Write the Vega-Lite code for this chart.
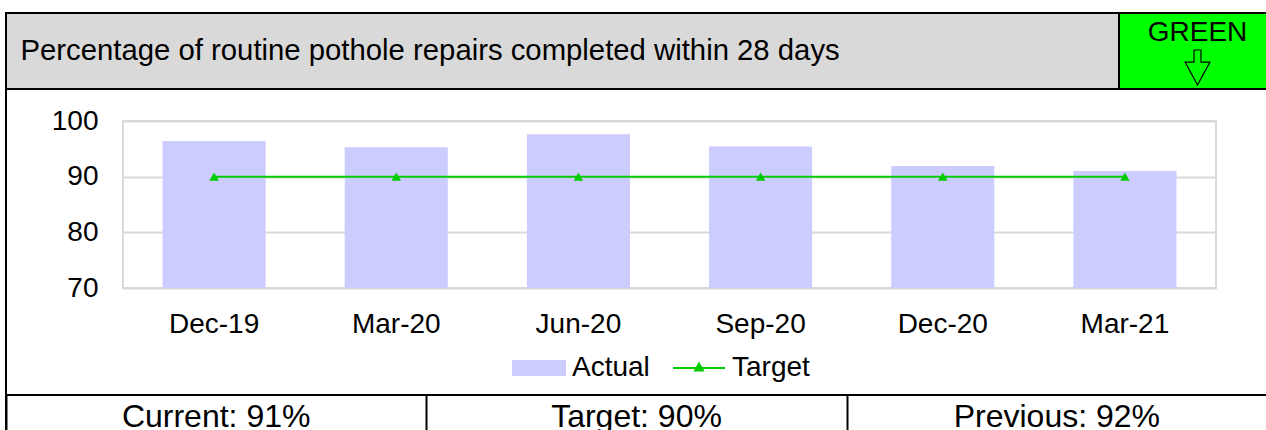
{
  "$schema": "https://vega.github.io/schema/vega-lite/v6.json",
  "padding": {"left": 5, "top": 12, "right": -2, "bottom": -2},
  "background": "white",
  "spacing": -2,
  "bounds": "full",
  "config": {"view": {"stroke": null}, "font": "Liberation Sans"},
  "resolve": {"scale": {"color": "independent"}, "legend": {"color": "independent"}},
  "vconcat": [
    {
      "hconcat": [
        {
          "width": 1113,
          "height": 76,
          "view": {"fill": "#d9d9d9", "stroke": "black", "strokeWidth": 2},
          "data": {"values": [{"title": "Percentage of routine pothole repairs completed within 28 days"}]},
          "mark": {"type": "text", "align": "left", "baseline": "middle", "fontSize": 29.3, "color": "black", "dx": 14.5},
          "encoding": {
            "text": {"field": "title", "type": "nominal"},
            "x": {"datum": 0, "type": "quantitative", "scale": {"domain": [0, 1]}, "axis": null}
          }
        },
        {
          "width": 148,
          "height": 76,
          "view": {"fill": "#00ff00", "stroke": "black", "strokeWidth": 2},
          "data": {"values": [{"status": "GREEN"}]},
          "layer": [
            {
              "mark": {"type": "text", "align": "center", "baseline": "middle", "fontSize": 28, "color": "black", "dx": 4.5, "dy": -18},
              "encoding": {"text": {"field": "status", "type": "nominal"}}
            },
            {
              "mark": {"type": "point", "shape": "M-0.2,-1H0.2V-0.31H0.71L0,1L-0.71,-0.31H-0.2Z", "size": 1225, "filled": false, "stroke": "black", "strokeWidth": 1.2, "opacity": 1, "xOffset": 4.5, "yOffset": 16.5},
              "encoding": {}
            }
          ]
        }
      ],
      "spacing": 0,
      "bounds": "flush"
    },
    {
      "hconcat": [
        {
          "width": 0.001,
          "height": 304,
          "view": {"stroke": "black", "strokeWidth": 2},
          "data": {"values": []},
          "mark": "rect",
          "encoding": {}
        },
        {
          "vconcat": [
            {
              "width": 1093,
              "height": 1,
              "data": {"values": []},
              "mark": "rect",
              "encoding": {}
            },
            {
              "width": 1093,
              "height": 167,
              "view": {"stroke": "#d9d9d9", "strokeWidth": 2},
              "data": {"values": [
                {"period": "Dec-19", "actual": 96.4, "target": 90},
                {"period": "Mar-20", "actual": 95.3, "target": 90},
                {"period": "Jun-20", "actual": 97.6, "target": 90},
                {"period": "Sep-20", "actual": 95.4, "target": 90},
                {"period": "Dec-20", "actual": 91.9, "target": 90},
                {"period": "Mar-21", "actual": 91.0, "target": 90}
              ]},
              "encoding": {
                "x": {
                  "field": "period",
                  "type": "ordinal",
                  "sort": null,
                  "scale": {"paddingInner": 0.434, "paddingOuter": 0.217},
                  "axis": {"domain": false, "ticks": false, "labelPadding": 22, "labelFontSize": 28, "labelColor": "black", "labelAngle": 0, "title": null, "grid": false}
                }
              },
              "layer": [
                {
                  "mark": {"type": "bar"},
                  "encoding": {
                    "y": {
                      "field": "actual",
                      "type": "quantitative",
                      "scale": {"domain": [70, 100], "zero": false, "clamp": true},
                      "axis": {"values": [70, 80, 90, 100], "grid": true, "gridColor": "#d9d9d9", "gridWidth": 2, "domain": false, "ticks": false, "labelPadding": 25, "labelFontSize": 28, "labelColor": "black", "title": null}
                    },
                    "color": {
                      "datum": "Actual",
                      "type": "nominal",
                      "scale": {"domain": ["Actual", "Target"], "range": ["#ccccff", "#00cc00"]},
                      "legend": {
                        "orient": "none",
                        "legendX": 389,
                        "legendY": 220,
                        "direction": "horizontal",
                        "title": null,
                        "labelFontSize": 28,
                        "labelColor": "black",
                        "symbolSize": 2704,
                        "labelOffset": 6,
                        "columnPadding": 19,
                        "padding": 0,
                        "encode": {
                          "symbols": {
                            "update": {
                              "shape": {"signal": "datum.value === 'Actual' ? 'M-1,-0.27H1V0.27H-1Z' : 'M-1,0H1M-0.15,0.1L0,-0.17L0.15,0.1Z'"},
                              "fill": {"signal": "datum.value === 'Actual' ? '#ccccff' : '#00cc00'"},
                              "stroke": {"signal": "datum.value === 'Actual' ? '#ccccff' : '#00cc00'"},
                              "strokeWidth": {"value": 2},
                              "opacity": {"value": 1},
                              "fillOpacity": {"value": 1},
                              "strokeOpacity": {"value": 1}
                            }
                          }
                        }
                      }
                    }
                  }
                },
                {
                  "mark": {"type": "line", "strokeWidth": 2, "point": {"shape": "triangle-up", "filled": true, "size": 90}},
                  "encoding": {
                    "y": {"field": "target", "type": "quantitative"},
                    "color": {"datum": "Target", "type": "nominal"}
                  }
                }
              ]
            }
          ],
          "spacing": 30,
          "bounds": "flush",
          "resolve": {"scale": {"color": "independent"}, "legend": {"color": "independent"}}
        }
      ],
      "spacing": 116,
      "bounds": "flush",
      "resolve": {"scale": {"color": "independent"}, "legend": {"color": "independent"}}
    },
    {
      "width": 1261,
      "height": 38,
      "view": {"fill": "white", "stroke": "black", "strokeWidth": 2},
      "data": {"values": [
        {"label": "Current: 91%"},
        {"label": "Target: 90%"},
        {"label": "Previous: 92%"}
      ]},
      "mark": {"type": "text", "fontSize": 32, "color": "black", "baseline": "middle", "dy": 3},
      "encoding": {
        "x": {
          "field": "label",
          "type": "nominal",
          "sort": null,
          "scale": {"paddingInner": 0, "paddingOuter": 0},
          "axis": {"grid": true, "gridColor": "black", "gridWidth": 2, "tickBand": "extent", "labels": false, "ticks": false, "domain": false, "title": null}
        },
        "text": {"field": "label", "type": "nominal"}
      }
    }
  ]
}
